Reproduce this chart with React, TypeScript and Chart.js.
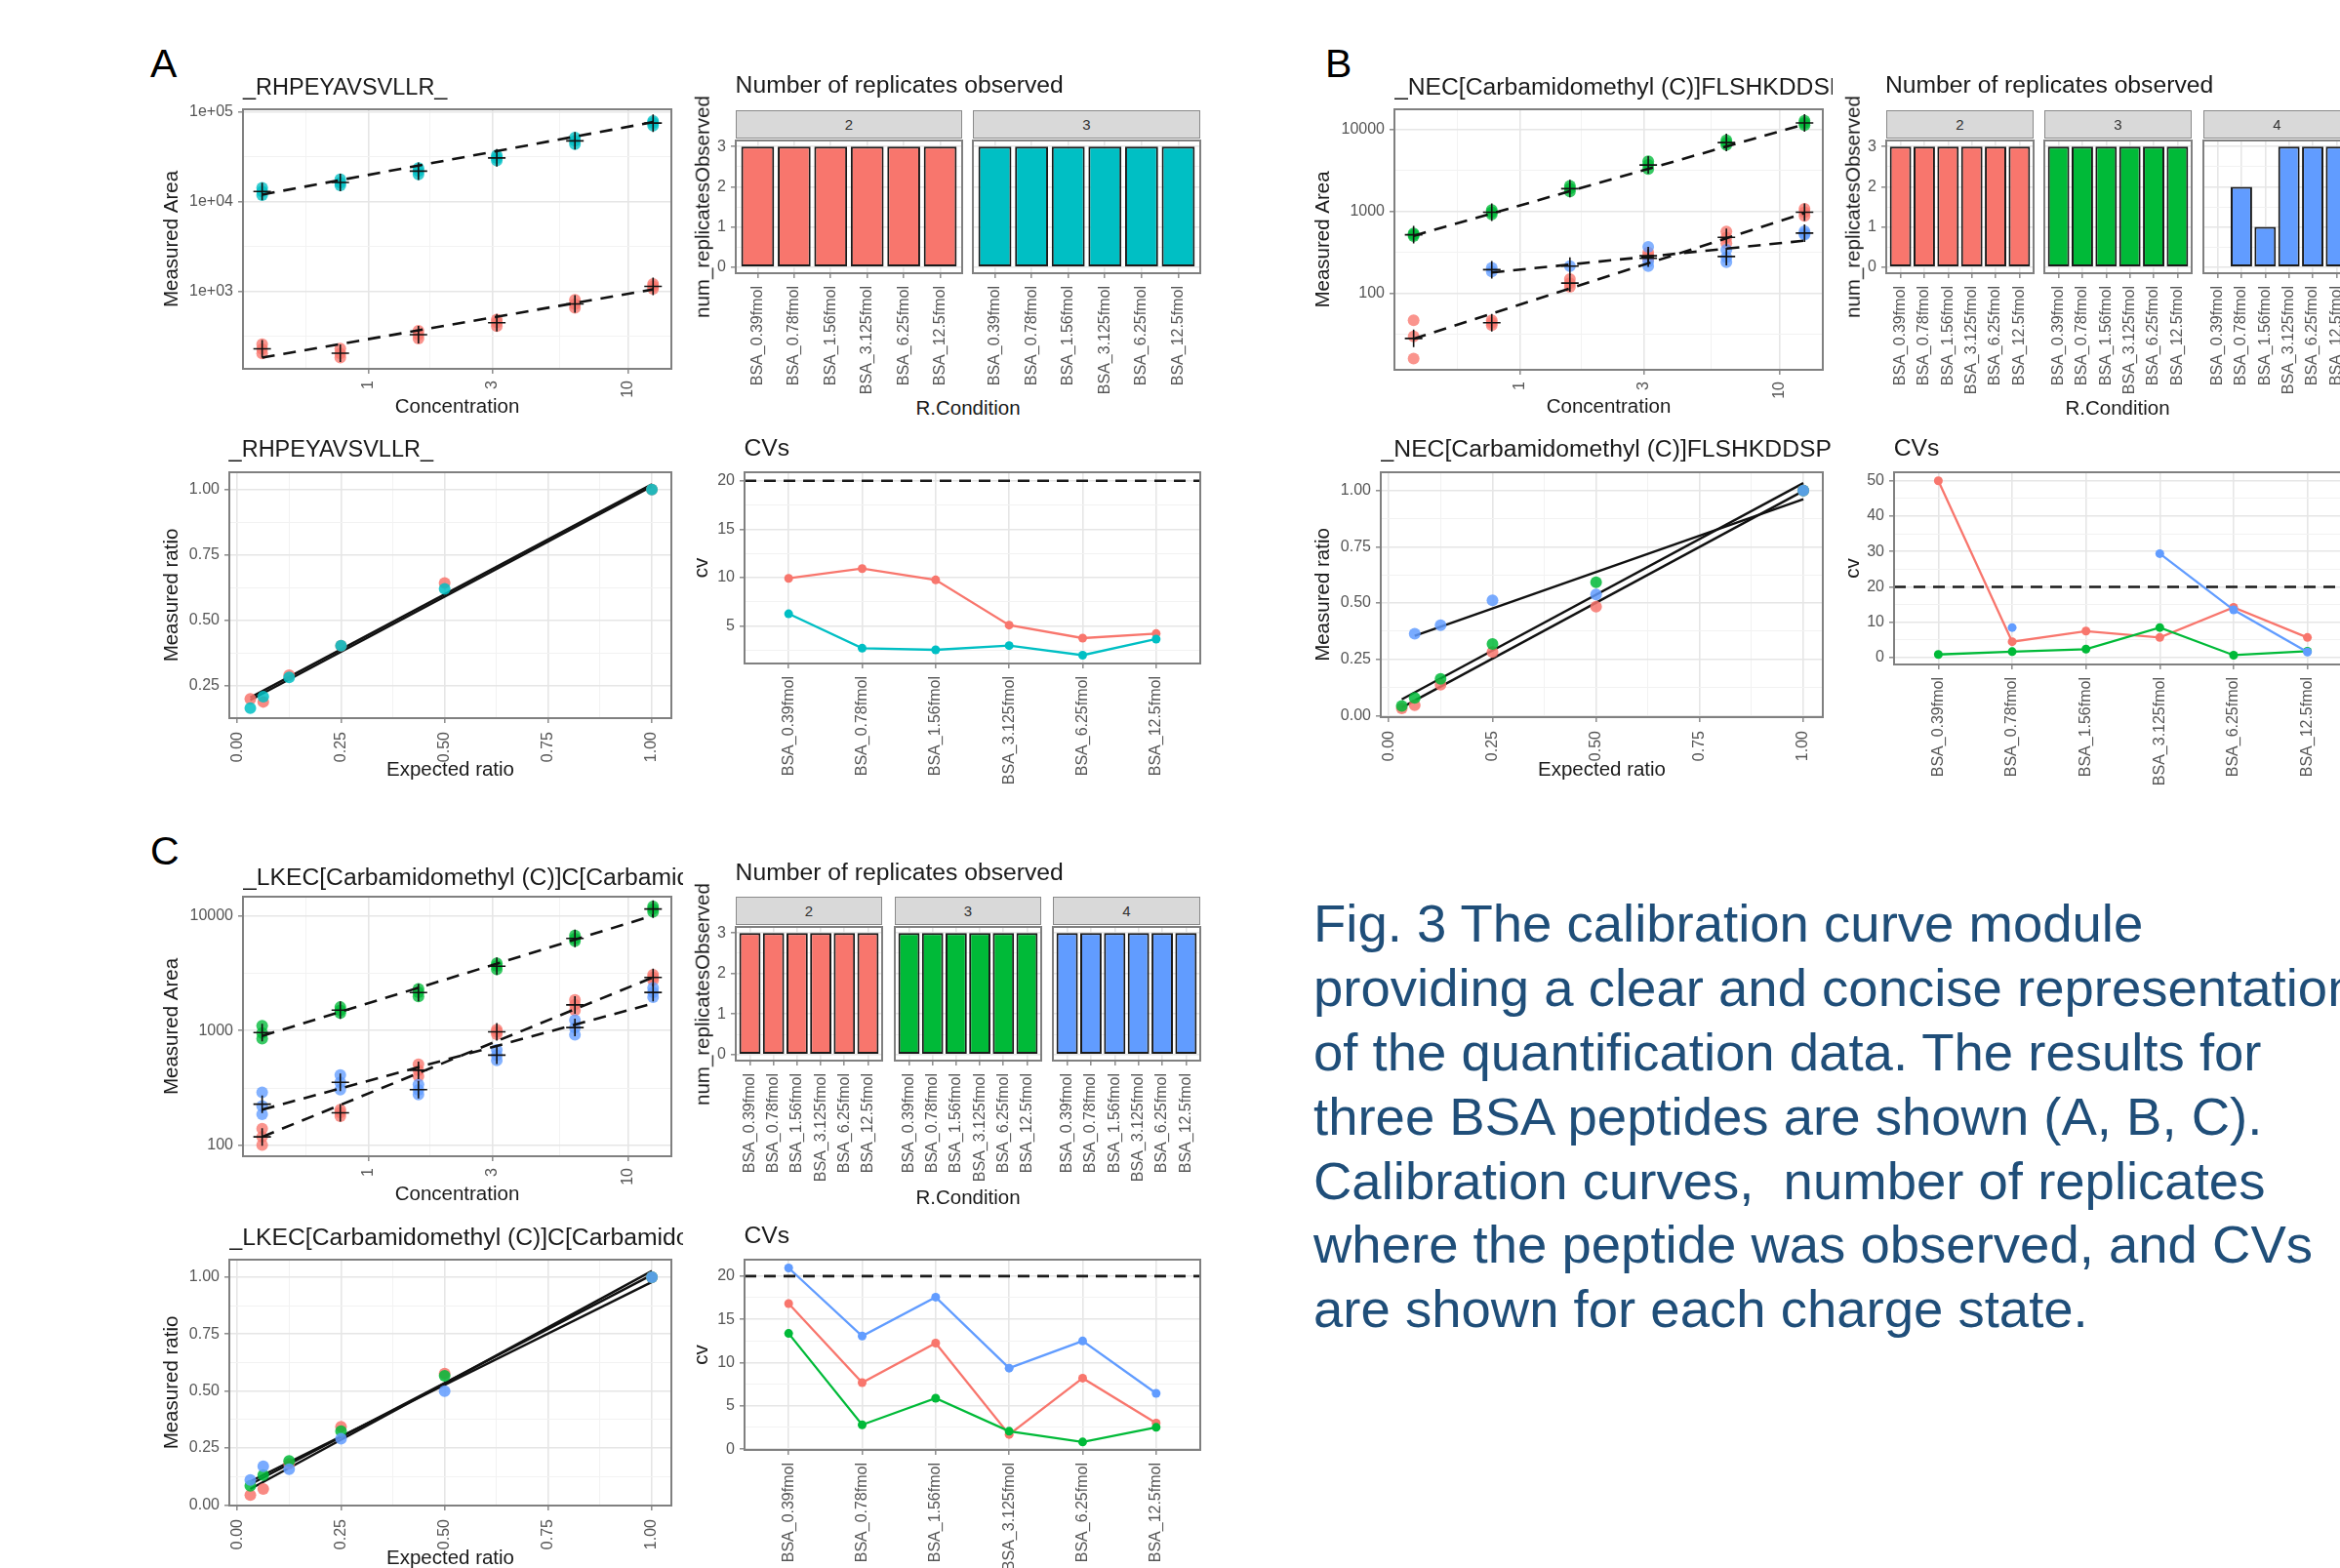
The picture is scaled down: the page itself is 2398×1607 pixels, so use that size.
import React, { useEffect, useRef } from "react";
import { Chart, registerables } from "chart.js";

Chart.register(...registerables);

const FONT = '"Liberation Sans", Arial, Helvetica, sans-serif';
Chart.defaults.font.family = FONT;

// ================= shared categories / ticks =================
const CONCENTRATIONS = [0.39, 0.78, 1.56, 3.125, 6.25, 12.5];
const CONDITIONS = ["BSA_0.39fmol", "BSA_0.78fmol", "BSA_1.56fmol", "BSA_3.125fmol", "BSA_6.25fmol", "BSA_12.5fmol"];
const CONDITION_POS = [1, 2, 3, 4, 5, 6];
const EXPECTED_RATIOS = [0.0312, 0.0624, 0.1248, 0.25, 0.5, 1];
const CV_THRESHOLD = 20;

const CONC_TICKS = [1, 3, 10];
const CONC_TICK_LABELS = ["1", "3", "10"];
const CONC_MINOR = [0.577, 1.732, 5.477];
const CONC_RANGE = [0.329, 14.7];

const RATIO_TICKS = [0, 0.25, 0.5, 0.75, 1];
const RATIO_TICK_LABELS = ["0.00", "0.25", "0.50", "0.75", "1.00"];
const RATIO_MINOR = [0.125, 0.375, 0.625, 0.875];
const RATIO_X_RANGE = [-0.0195, 1.047];

const REP_TICKS = [0, 1, 2, 3];
const REP_TICK_LABELS = ["0", "1", "2", "3"];
const REP_MINOR = [0.5, 1.5, 2.5];
const REP_RANGE = [-0.15, 3.15];

// ================= Panel A : _RHPEYAVSVLLR_ (charges 2, 3) =================
const A_AREA_2 = [[255, 225, 200], [228, 200, 180], [360, 325, 295], [480, 445, 405], [800, 715, 650], [1200, 1130, 1060]];
const A_AREA_3 = [[14300, 13000, 11800], [17800, 16300, 15200], [23800, 22000, 20200], [33000, 30800, 28800], [52000, 48000, 44000], [80000, 76000, 71000]];
const A_FIT_2 = [[0.39, 180], [12.5, 1043]];
const A_FIT_3 = [[0.39, 12000], [12.5, 77600]];
const A_AREA_TICKS = [1e3, 1e4, 1e5];
const A_AREA_TICK_LABELS = ["1e+03", "1e+04", "1e+05"];
const A_AREA_MINOR = [316.2, 3162, 31623];
const A_AREA_RANGE = [135, 107900];
const A_REPS_2 = [3, 3, 3, 3, 3, 3];
const A_REPS_3 = [3, 3, 3, 3, 3, 3];
const A_RATIO_2 = [0.2, 0.188, 0.29, 0.403, 0.643, 1.0];
const A_RATIO_3 = [0.164, 0.208, 0.282, 0.403, 0.62, 1.0];
const A_RATIO_FIT_2 = [[0.0312, 0.205], [1, 1.02]];
const A_RATIO_FIT_3 = [[0.0312, 0.195], [1, 1.012]];
const A_RATIO_RANGE = [0.126, 1.066];
const A_CV_2 = [9.93, 10.94, 9.77, 5.1, 3.76, 4.23];
const A_CV_3 = [6.27, 2.72, 2.55, 2.99, 2.0, 3.66];
const A_CV_TICKS = [5, 10, 15, 20];
const A_CV_MINOR = [2.5, 7.5, 12.5, 17.5];
const A_CV_RANGE = [1.14, 20.88];

// ================= Panel B : NEC...FLSHKDDSPDLPK (charges 2, 3, 4) =================
const B_AREA_2 = [[47, 30, 16], [47, 44, 41], [150, 133, 120], [315, 290, 262], [570, 480, 410], [1080, 980, 880]];
const B_AREA_3 = [[540, 520, 500], [1040, 980, 920], [2050, 1900, 1750], [4100, 3700, 3300], [7400, 6900, 6500], [12800, 12000, 11300]];
const B_AREA_4 = [[], [205, 185], [215], [370, 245, 215], [340, 275, 240], [575, 540, 520]];
const B_FIT_2 = [[0.39, 28], [12.5, 955]];
const B_FIT_3 = [[0.39, 505], [12.5, 11570]];
const B_FIT_4 = [[0.78, 180], [12.5, 440]];
const B_AREA_TICKS = [100, 1000, 10000];
const B_AREA_TICK_LABELS = ["100", "1000", "10000"];
const B_AREA_MINOR = [31.62, 316.2, 3162];
const B_AREA_RANGE = [11.7, 17630];
const B_REPS_2 = [3, 3, 3, 3, 3, 3];
const B_REPS_3 = [3, 3, 3, 3, 3, 3];
const B_REPS_4 = [null, 2, 1, 3, 3, 3];
const B_RATIO_2 = [0.032, 0.046, 0.137, 0.282, 0.484, 1.0];
const B_RATIO_3 = [0.043, 0.079, 0.163, 0.318, 0.592, 1.0];
const B_RATIO_4 = [null, 0.364, 0.402, 0.512, 0.538, 1.0];
const B_RATIO_FIT_2 = [[0.0312, 0.036], [1, 0.998]];
const B_RATIO_FIT_3 = [[0.0312, 0.072], [1, 1.033]];
const B_RATIO_FIT_4 = [[0.0624, 0.354], [1, 0.961]];
const B_RATIO_RANGE = [-0.007, 1.081];
const B_CV_2 = [50.0, 4.5, 7.5, 5.7, 14.2, 5.7];
const B_CV_3 = [0.9, 1.7, 2.4, 8.5, 0.7, 1.8];
const B_CV_4 = [null, 8.5, null, 29.4, 13.5, 1.6];
const B_CV_TICKS = [0, 10, 20, 30, 40, 50];
const B_CV_MINOR = [5, 15, 25, 35, 45];
const B_CV_RANGE = [-1.93, 52.4];

// ================= Panel C : LKEC...DKPLLEK (charges 2, 3, 4) =================
const C_AREA_2 = [[140, 119, 101], [205, 193, 180], [510, 450, 400], [1020, 975, 930], [1850, 1680, 1500], [3050, 2900, 2750]];
const C_AREA_3 = [[1100, 950, 850], [1600, 1500, 1420], [2300, 2150, 1980], [3850, 3650, 3400], [6700, 6300, 6000], [12000, 11400, 10800]];
const C_AREA_4 = [[290, 221, 187], [411, 355, 306], [340, 305, 278], [680, 610, 550], [1230, 1060, 920], [2350, 2150, 1950]];
const C_FIT_2 = [[0.39, 119], [12.5, 2900]];
const C_FIT_3 = [[0.39, 898], [12.5, 10000]];
const C_FIT_4 = [[0.39, 205], [12.5, 1722]];
const C_AREA_TICKS = [100, 1000, 10000];
const C_AREA_TICK_LABELS = ["100", "1000", "10000"];
const C_AREA_MINOR = [316.2, 3162];
const C_AREA_RANGE = [80.7, 14590];
const C_REPS_2 = [3, 3, 3, 3, 3, 3];
const C_REPS_3 = [3, 3, 3, 3, 3, 3];
const C_REPS_4 = [3, 3, 3, 3, 3, 3];
const C_RATIO_2 = [0.043, 0.07, 0.18, 0.343, 0.577, 1.0];
const C_RATIO_3 = [0.084, 0.131, 0.193, 0.324, 0.567, 1.0];
const C_RATIO_4 = [0.11, 0.17, 0.157, 0.291, 0.5, 1.0];
const C_RATIO_FIT_2 = [[0.0312, 0.07], [1, 1.027]];
const C_RATIO_FIT_3 = [[0.0312, 0.09], [1, 1.01]];
const C_RATIO_FIT_4 = [[0.0312, 0.103], [1, 0.979]];
const C_RATIO_RANGE = [-0.003, 1.077];
const C_CV_2 = [16.82, 7.68, 12.25, 1.69, 8.2, 3.0];
const C_CV_3 = [13.37, 2.81, 5.88, 2.06, 0.82, 2.51];
const C_CV_4 = [20.94, 13.07, 17.57, 9.36, 12.5, 6.44];
const C_CV_TICKS = [0, 5, 10, 15, 20];
const C_CV_MINOR = [2.5, 7.5, 12.5, 17.5];
const C_CV_RANGE = [-0.1, 21.9];

// ================= texts =================
const TITLE_A = "_RHPEYAVSVLLR_";
const TITLE_B = "_NEC[Carbamidomethyl (C)]FLSHKDDSPDLPK_";
const TITLE_C = "_LKEC[Carbamidomethyl (C)]C[Carbamidomethyl (C)]DKPLLEK_";
const TITLE_REPS = "Number of replicates observed";
const TITLE_CV = "CVs";
const REPS_Y_TITLE = "num_replicatesObserved";
const REPS_X_TITLE = "R.Condition";
const STRIPS_2 = ["2", "3"];
const STRIPS_3 = ["2", "3", "4"];
const CAPTION_LINES = [
  "Fig. 3 The calibration curve module",
  "providing a clear and concise representation",
  "of the quantification data. The results for",
  "three BSA peptides are shown (A, B, C).",
  "Calibration curves,  number of replicates",
  "where the peptide was observed, and CVs",
  "are shown for each charge state.",
];

// ================= styles =================
const COLOR_Z2 = "#F8766D";
const COLOR_Z3_TWO = "#00BFC4";
const COLOR_Z3 = "#00BA38";
const COLOR_Z4 = "#619CFF";
const GRID_MAJOR = "#E6E6E6";
const GRID_MINOR = "#F2F2F2";
const BORDER = "#808080";
const TICK_MARK = "#8C8C8C";
const TICK_TEXT = "#555555";
const TITLE_TEXT = "#1A1A1A";
const CAPTION_COLOR = "#1F4E79";
const TICK_FONT = 16;
const AXIS_FONT = 20.5;
const TITLE_FONT = 24.7;
const TITLE_FONT_A = 23.5;

function rgba(hex, a) {
  const n = parseInt(hex.slice(1), 16);
  return `rgba(${(n >> 16) & 255},${(n >> 8) & 255},${n & 255},${a})`;
}

function geoMean(vals) {
  let s = 0;
  for (const v of vals) s += Math.log10(v);
  return Math.pow(10, s / vals.length);
}

// ================= layout frames =================
function frame(plot, canvasLeft, canvasBottom, padTop = 16, padRight = 22) {
  const canvas = {
    left: Math.round(canvasLeft),
    top: plot.top - padTop,
    right: plot.right + padRight,
    bottom: Math.round(canvasBottom),
  };
  return { plot, canvas, padTop, padRight, yWidth: plot.left - canvas.left, xHeight: canvas.bottom - plot.bottom };
}

const AXT = AXIS_FONT * 0.6; // half line height of axis titles

const F_A_CALIB = frame({ left: 249, top: 112, right: 688, bottom: 378 }, 176.6 - AXT, 418 + AXT);
const F_A_BAR1 = frame({ left: 754, top: 144, right: 986, bottom: 280 }, 720 - AXT, 405);
const F_A_BAR2 = frame({ left: 997, top: 144, right: 1230, bottom: 280 }, 993, 405);
const F_A_RATIO = frame({ left: 235, top: 484, right: 688, bottom: 736 }, 176.6 - AXT, 790 + AXT);
const F_A_CV = frame({ left: 763, top: 484, right: 1230, bottom: 680 }, 719 - AXT, 805);

const F_B_CALIB = frame({ left: 1429, top: 112, right: 1868, bottom: 379 }, 1356.6 - AXT, 418 + AXT);
const F_B_BAR1 = frame({ left: 1933, top: 144, right: 2084, bottom: 280 }, 1898.6 - AXT, 405);
const F_B_BAR2 = frame({ left: 2095, top: 144, right: 2246, bottom: 280 }, 2091, 405);
const F_B_BAR3 = frame({ left: 2258, top: 144, right: 2409, bottom: 280 }, 2254, 405);
const F_B_RATIO = frame({ left: 1415, top: 484, right: 1868, bottom: 735 }, 1356.6 - AXT, 790 + AXT);
const F_B_CV = frame({ left: 1941, top: 484, right: 2410, bottom: 681 }, 1899.5 - AXT, 806);

const F_C_CALIB = frame({ left: 249, top: 919, right: 688, bottom: 1185 }, 176.6 - AXT, 1225 + AXT);
const F_C_BAR1 = frame({ left: 754, top: 950, right: 904, bottom: 1087 }, 720 - AXT, 1212);
const F_C_BAR2 = frame({ left: 917, top: 950, right: 1067, bottom: 1087 }, 913, 1212);
const F_C_BAR3 = frame({ left: 1079, top: 950, right: 1230, bottom: 1087 }, 1075, 1212);
const F_C_RATIO = frame({ left: 235, top: 1291, right: 688, bottom: 1543 }, 176.6 - AXT, 1598 + AXT);
const F_C_CV = frame({ left: 763, top: 1291, right: 1230, bottom: 1486 }, 719 - AXT, 1611);

// ================= chart helpers =================
function makeScale(o) {
  const majors = o.majors;
  const labels = o.labels;
  const minors = o.minors || [];
  const near = (a, b) => Math.abs(a - b) < 1e-9 * Math.max(1, Math.abs(a));
  const isMajor = (v) => majors.some((m) => near(m, v));
  const all = majors
    .concat(minors)
    .filter((v) => v >= o.min && v <= o.max)
    .sort((a, b) => a - b);
  const show = o.showTicks !== false;
  return {
    type: o.type || "linear",
    position: o.position,
    min: o.min,
    max: o.max,
    bounds: "data",
    offset: false,
    beginAtZero: false,
    afterBuildTicks: (s) => {
      s.ticks = all.map((v) => ({ value: v }));
    },
    afterFit: (s) => {
      if (o.position === "bottom") s.height = o.size;
      else s.width = o.size;
    },
    grid: {
      display: true,
      offset: false,
      drawOnChartArea: true,
      color: (c) => (c.tick && isMajor(c.tick.value) ? GRID_MAJOR : GRID_MINOR),
      lineWidth: (c) => (c.tick && isMajor(c.tick.value) ? 1.6 : 1),
      drawTicks: show,
      tickLength: 5,
      tickWidth: 1.5,
      tickColor: (c) => (c.tick && isMajor(c.tick.value) ? TICK_MARK : "rgba(0,0,0,0)"),
    },
    border: { display: false },
    ticks: {
      display: show,
      autoSkip: false,
      minRotation: o.rotate ? 90 : 0,
      maxRotation: o.rotate ? 90 : 0,
      padding: o.padding ?? 5,
      color: TICK_TEXT,
      font: { size: TICK_FONT, family: FONT },
      callback: (v) => {
        const i = majors.findIndex((m) => near(m, v));
        return i >= 0 ? labels[i] : "";
      },
    },
    title: {
      display: !!o.title,
      text: o.title || "",
      color: TITLE_TEXT,
      font: { size: AXIS_FONT, family: FONT },
      padding: 0,
    },
  };
}

function baseOptions(f, x, y) {
  return {
    responsive: false,
    animation: false,
    events: [],
    layout: { padding: { left: 0, top: f.padTop, right: f.padRight, bottom: 0 } },
    plugins: { legend: { display: false }, tooltip: { enabled: false }, title: { display: false } },
    scales: { x, y },
  };
}

const panelBorder = {
  id: "panelBorder",
  afterDraw(chart) {
    const { ctx, chartArea: a } = chart;
    ctx.save();
    ctx.strokeStyle = BORDER;
    ctx.lineWidth = 2;
    ctx.strokeRect(a.left, a.top, a.right - a.left, a.bottom - a.top);
    ctx.restore();
  },
};

const cvThreshold = {
  id: "cvThreshold",
  afterDatasetsDraw(chart) {
    const { ctx, chartArea: a, scales } = chart;
    const y = scales.y.getPixelForValue(CV_THRESHOLD);
    ctx.save();
    ctx.beginPath();
    ctx.rect(a.left, a.top, a.right - a.left, a.bottom - a.top);
    ctx.clip();
    ctx.strokeStyle = "#1A1A1A";
    ctx.lineWidth = 2.6;
    ctx.setLineDash([12, 8]);
    ctx.beginPath();
    ctx.moveTo(a.left, y);
    ctx.lineTo(a.right, y);
    ctx.stroke();
    ctx.restore();
  },
};

function calibConfig(f, groups, yTicks, yLabels, yMinor, yRange) {
  const lines = groups.map((g) => ({
    data: g.fit.map((p) => ({ x: p[0], y: p[1] })),
    showLine: true,
    borderColor: "#111",
    borderWidth: 2.6,
    borderDash: [13, 9],
    pointRadius: 0,
    fill: false,
  }));
  const crosses = groups.map((g) => ({
    data: CONCENTRATIONS.map((c, i) => (g.area[i].length ? { x: c, y: geoMean(g.area[i]) } : null)).filter(Boolean),
    showLine: false,
    pointStyle: "cross",
    pointRadius: 9,
    pointBorderColor: "#111",
    pointBorderWidth: 1.6,
    pointBackgroundColor: "rgba(0,0,0,0)",
  }));
  const pts = groups
    .slice()
    .reverse()
    .map((g) => ({
      data: CONCENTRATIONS.flatMap((c, i) => g.area[i].map((v) => ({ x: c, y: v }))),
      showLine: false,
      pointRadius: 6,
      pointBorderWidth: 0,
      pointBorderColor: "rgba(0,0,0,0)",
      pointBackgroundColor: rgba(g.color, 0.78),
    }));
  const x = makeScale({
    position: "bottom", type: "logarithmic", min: CONC_RANGE[0], max: CONC_RANGE[1],
    majors: CONC_TICKS, labels: CONC_TICK_LABELS, minors: CONC_MINOR, size: f.xHeight,
    title: "Concentration", rotate: true, padding: 7,
  });
  const y = makeScale({
    position: "left", type: "logarithmic", min: yRange[0], max: yRange[1],
    majors: yTicks, labels: yLabels, minors: yMinor, size: f.yWidth, title: "Measured Area",
  });
  return {
    type: "scatter",
    data: { datasets: [...lines, ...crosses, ...pts] },
    options: baseOptions(f, x, y),
    plugins: [panelBorder],
  };
}

function barConfig(f, reps, color, showY) {
  const x = makeScale({
    position: "bottom", min: 0.4, max: 6.6, majors: CONDITION_POS, labels: CONDITIONS,
    size: f.xHeight, rotate: true, padding: 8,
  });
  const y = makeScale({
    position: "left", min: REP_RANGE[0], max: REP_RANGE[1], majors: REP_TICKS, labels: REP_TICK_LABELS,
    minors: REP_MINOR, size: f.yWidth, showTicks: showY,
  });
  return {
    type: "bar",
    data: {
      datasets: [
        {
          data: CONDITION_POS.map((p, i) => ({ x: p, y: reps[i] })),
          backgroundColor: color,
          borderColor: "#1A1A1A",
          borderWidth: 2,
          borderSkipped: false,
          barPercentage: 0.9,
          categoryPercentage: 1,
        },
      ],
    },
    options: baseOptions(f, x, y),
    plugins: [panelBorder],
  };
}

function ratioConfig(f, groups, yTicks, yLabels, yMinor, yRange) {
  const pts = groups
    .slice()
    .reverse()
    .map((g) => ({
      data: EXPECTED_RATIOS.map((r, i) => ({ x: r, y: g.ratio[i] })).filter((p) => p.y !== null),
      showLine: false,
      pointRadius: 6,
      pointBorderWidth: 0,
      pointBorderColor: "rgba(0,0,0,0)",
      pointBackgroundColor: rgba(g.color, 0.85),
    }));
  const lines = groups.map((g) => ({
    data: g.fit.map((p) => ({ x: p[0], y: p[1] })),
    showLine: true,
    borderColor: "#111",
    borderWidth: 2.4,
    pointRadius: 0,
    fill: false,
  }));
  const x = makeScale({
    position: "bottom", min: RATIO_X_RANGE[0], max: RATIO_X_RANGE[1], majors: RATIO_TICKS,
    labels: RATIO_TICK_LABELS, minors: RATIO_MINOR, size: f.xHeight, title: "Expected ratio",
    rotate: true, padding: 9,
  });
  const y = makeScale({
    position: "left", min: yRange[0], max: yRange[1], majors: yTicks, labels: yLabels,
    minors: yMinor, size: f.yWidth, title: "Measured ratio",
  });
  return {
    type: "scatter",
    data: { datasets: [...pts, ...lines] },
    options: baseOptions(f, x, y),
    plugins: [panelBorder],
  };
}

function cvConfig(f, groups, yTicks, yMinor, yRange) {
  const sets = groups
    .slice()
    .reverse()
    .map((g) => ({
      data: CONDITION_POS.map((p, i) => ({ x: p, y: g.cv[i] })),
      showLine: true,
      spanGaps: false,
      borderColor: g.color,
      borderWidth: 2.3,
      pointRadius: 4.5,
      pointBorderWidth: 0,
      pointBorderColor: "rgba(0,0,0,0)",
      pointBackgroundColor: g.color,
      fill: false,
    }));
  const x = makeScale({
    position: "bottom", min: 0.4, max: 6.6, majors: CONDITION_POS, labels: CONDITIONS,
    size: f.xHeight, rotate: true, padding: 8,
  });
  const y = makeScale({
    position: "left", min: yRange[0], max: yRange[1], majors: yTicks, labels: yTicks.map(String),
    minors: yMinor, size: f.yWidth, title: "cv",
  });
  return {
    type: "scatter",
    data: { datasets: sets },
    options: baseOptions(f, x, y),
    plugins: [panelBorder, cvThreshold],
  };
}

// ================= chart list =================
const SPECS = [
  // ---- A ----
  { f: F_A_CALIB, make: () => calibConfig(F_A_CALIB, [
      { color: COLOR_Z2, area: A_AREA_2, fit: A_FIT_2 },
      { color: COLOR_Z3_TWO, area: A_AREA_3, fit: A_FIT_3 },
    ], A_AREA_TICKS, A_AREA_TICK_LABELS, A_AREA_MINOR, A_AREA_RANGE) },
  { f: F_A_BAR1, make: () => barConfig(F_A_BAR1, A_REPS_2, COLOR_Z2, true) },
  { f: F_A_BAR2, make: () => barConfig(F_A_BAR2, A_REPS_3, COLOR_Z3_TWO, false) },
  { f: F_A_RATIO, make: () => ratioConfig(F_A_RATIO, [
      { color: COLOR_Z2, ratio: A_RATIO_2, fit: A_RATIO_FIT_2 },
      { color: COLOR_Z3_TWO, ratio: A_RATIO_3, fit: A_RATIO_FIT_3 },
    ], RATIO_TICKS, RATIO_TICK_LABELS, RATIO_MINOR, A_RATIO_RANGE) },
  { f: F_A_CV, make: () => cvConfig(F_A_CV, [
      { color: COLOR_Z2, cv: A_CV_2 },
      { color: COLOR_Z3_TWO, cv: A_CV_3 },
    ], A_CV_TICKS, A_CV_MINOR, A_CV_RANGE) },
  // ---- B ----
  { f: F_B_CALIB, make: () => calibConfig(F_B_CALIB, [
      { color: COLOR_Z2, area: B_AREA_2, fit: B_FIT_2 },
      { color: COLOR_Z3, area: B_AREA_3, fit: B_FIT_3 },
      { color: COLOR_Z4, area: B_AREA_4, fit: B_FIT_4 },
    ], B_AREA_TICKS, B_AREA_TICK_LABELS, B_AREA_MINOR, B_AREA_RANGE) },
  { f: F_B_BAR1, make: () => barConfig(F_B_BAR1, B_REPS_2, COLOR_Z2, true) },
  { f: F_B_BAR2, make: () => barConfig(F_B_BAR2, B_REPS_3, COLOR_Z3, false) },
  { f: F_B_BAR3, make: () => barConfig(F_B_BAR3, B_REPS_4, COLOR_Z4, false) },
  { f: F_B_RATIO, make: () => ratioConfig(F_B_RATIO, [
      { color: COLOR_Z2, ratio: B_RATIO_2, fit: B_RATIO_FIT_2 },
      { color: COLOR_Z3, ratio: B_RATIO_3, fit: B_RATIO_FIT_3 },
      { color: COLOR_Z4, ratio: B_RATIO_4, fit: B_RATIO_FIT_4 },
    ], RATIO_TICKS, RATIO_TICK_LABELS, RATIO_MINOR, B_RATIO_RANGE) },
  { f: F_B_CV, make: () => cvConfig(F_B_CV, [
      { color: COLOR_Z2, cv: B_CV_2 },
      { color: COLOR_Z3, cv: B_CV_3 },
      { color: COLOR_Z4, cv: B_CV_4 },
    ], B_CV_TICKS, B_CV_MINOR, B_CV_RANGE) },
  // ---- C ----
  { f: F_C_CALIB, make: () => calibConfig(F_C_CALIB, [
      { color: COLOR_Z2, area: C_AREA_2, fit: C_FIT_2 },
      { color: COLOR_Z3, area: C_AREA_3, fit: C_FIT_3 },
      { color: COLOR_Z4, area: C_AREA_4, fit: C_FIT_4 },
    ], C_AREA_TICKS, C_AREA_TICK_LABELS, C_AREA_MINOR, C_AREA_RANGE) },
  { f: F_C_BAR1, make: () => barConfig(F_C_BAR1, C_REPS_2, COLOR_Z2, true) },
  { f: F_C_BAR2, make: () => barConfig(F_C_BAR2, C_REPS_3, COLOR_Z3, false) },
  { f: F_C_BAR3, make: () => barConfig(F_C_BAR3, C_REPS_4, COLOR_Z4, false) },
  { f: F_C_RATIO, make: () => ratioConfig(F_C_RATIO, [
      { color: COLOR_Z2, ratio: C_RATIO_2, fit: C_RATIO_FIT_2 },
      { color: COLOR_Z3, ratio: C_RATIO_3, fit: C_RATIO_FIT_3 },
      { color: COLOR_Z4, ratio: C_RATIO_4, fit: C_RATIO_FIT_4 },
    ], RATIO_TICKS, RATIO_TICK_LABELS, RATIO_MINOR, C_RATIO_RANGE) },
  { f: F_C_CV, make: () => cvConfig(F_C_CV, [
      { color: COLOR_Z2, cv: C_CV_2 },
      { color: COLOR_Z3, cv: C_CV_3 },
      { color: COLOR_Z4, cv: C_CV_4 },
    ], C_CV_TICKS, C_CV_MINOR, C_CV_RANGE) },
];

// ================= components =================
function ChartCanvas({ spec }) {
  const ref = useRef(null);
  useEffect(() => {
    const chart = new Chart(ref.current, spec.make());
    return () => chart.destroy();
  }, [spec]);
  const c = spec.f.canvas;
  const w = c.right - c.left;
  const h = c.bottom - c.top;
  return (
    <canvas
      ref={ref}
      width={w}
      height={h}
      style={{ position: "absolute", left: c.left, top: c.top, width: w, height: h }}
    />
  );
}

function Txt({ left, baseline, size, text, clipRight, color = TITLE_TEXT }) {
  const top = baseline - 0.8465 * size;
  return (
    <div
      style={{
        position: "absolute",
        left,
        top,
        fontSize: size,
        lineHeight: 1,
        whiteSpace: "pre",
        color,
        fontFamily: FONT,
        width: clipRight ? clipRight - left : undefined,
        overflow: clipRight ? "hidden" : "visible",
      }}
    >
      {text}
    </div>
  );
}

function CenterTxt({ cx, cy, size, text, rotate = false }) {
  return (
    <div
      style={{
        position: "absolute",
        left: cx,
        top: cy,
        transform: rotate ? "translate(-50%, -50%) rotate(-90deg)" : "translate(-50%, -50%)",
        fontSize: size,
        lineHeight: 1,
        whiteSpace: "nowrap",
        color: TITLE_TEXT,
        fontFamily: FONT,
      }}
    >
      {text}
    </div>
  );
}

function Strip({ left, right, top, bottom, text }) {
  return (
    <div
      style={{
        position: "absolute",
        left,
        top,
        width: right - left,
        height: bottom - top,
        boxSizing: "border-box",
        background: "#D9D9D9",
        border: "1.5px solid #8A8A8A",
        display: "flex",
        alignItems: "center",
        justifyContent: "center",
        fontSize: 15,
        color: "#333",
        fontFamily: FONT,
      }}
    >
      {text}
    </div>
  );
}

export default function App() {
  const barFramesA = [F_A_BAR1, F_A_BAR2];
  const barFramesB = [F_B_BAR1, F_B_BAR2, F_B_BAR3];
  const barFramesC = [F_C_BAR1, F_C_BAR2, F_C_BAR3];
  const midY = (f) => (f.plot.top + f.plot.bottom) / 2;
  return (
    <div
      style={{
        position: "absolute",
        left: 0,
        top: 0,
        width: 2398,
        height: 1607,
        overflow: "hidden",
        background: "#FFFFFF",
        fontFamily: FONT,
      }}
    >
      {SPECS.map((s, i) => (
        <ChartCanvas key={i} spec={s} />
      ))}

      {barFramesA.map((f, i) => (
        <Strip key={"sa" + i} left={f.plot.left} right={f.plot.right} top={113} bottom={142} text={STRIPS_2[i]} />
      ))}
      {barFramesB.map((f, i) => (
        <Strip key={"sb" + i} left={f.plot.left} right={f.plot.right} top={113} bottom={142} text={STRIPS_3[i]} />
      ))}
      {barFramesC.map((f, i) => (
        <Strip key={"sc" + i} left={f.plot.left} right={f.plot.right} top={919} bottom={948} text={STRIPS_3[i]} />
      ))}

      {/* panel letters */}
      <Txt left={154} baseline={80} size={41} text="A" color="#000" />
      <Txt left={1358} baseline={80} size={41} text="B" color="#000" />
      <Txt left={154} baseline={887} size={41} text="C" color="#000" />

      {/* plot titles */}
      <Txt left={249} baseline={98} size={TITLE_FONT_A} text={TITLE_A} />
      <Txt left={753.6} baseline={96} size={TITLE_FONT} text={TITLE_REPS} />
      <Txt left={234.6} baseline={469} size={TITLE_FONT_A} text={TITLE_A} />
      <Txt left={762.5} baseline={468} size={TITLE_FONT} text={TITLE_CV} />

      <Txt left={1429} baseline={98} size={TITLE_FONT} text={TITLE_B} clipRight={1878} />
      <Txt left={1932} baseline={96} size={TITLE_FONT} text={TITLE_REPS} />
      <Txt left={1414.6} baseline={469} size={TITLE_FONT} text={TITLE_B} clipRight={1878} />
      <Txt left={1940.7} baseline={468} size={TITLE_FONT} text={TITLE_CV} />

      <Txt left={249} baseline={908} size={TITLE_FONT} text={TITLE_C} clipRight={700} />
      <Txt left={753.6} baseline={903} size={TITLE_FONT} text={TITLE_REPS} />
      <Txt left={234.6} baseline={1277} size={TITLE_FONT} text={TITLE_C} clipRight={700} />
      <Txt left={762.5} baseline={1275} size={TITLE_FONT} text={TITLE_CV} />

      {/* facet axis titles */}
      <CenterTxt cx={720} cy={midY(F_A_BAR1)} size={AXIS_FONT} text={REPS_Y_TITLE} rotate />
      <CenterTxt cx={1898.6} cy={midY(F_B_BAR1)} size={AXIS_FONT} text={REPS_Y_TITLE} rotate />
      <CenterTxt cx={720} cy={midY(F_C_BAR1)} size={AXIS_FONT} text={REPS_Y_TITLE} rotate />
      <CenterTxt cx={992} cy={418} size={AXIS_FONT} text={REPS_X_TITLE} />
      <CenterTxt cx={2170} cy={418} size={AXIS_FONT} text={REPS_X_TITLE} />
      <CenterTxt cx={992} cy={1227} size={AXIS_FONT} text={REPS_X_TITLE} />

      {/* caption */}
      {CAPTION_LINES.map((line, i) => (
        <Txt key={"cap" + i} left={1346} baseline={966.5 + i * 65.8} size={54.5} text={line} color={CAPTION_COLOR} />
      ))}
    </div>
  );
}
